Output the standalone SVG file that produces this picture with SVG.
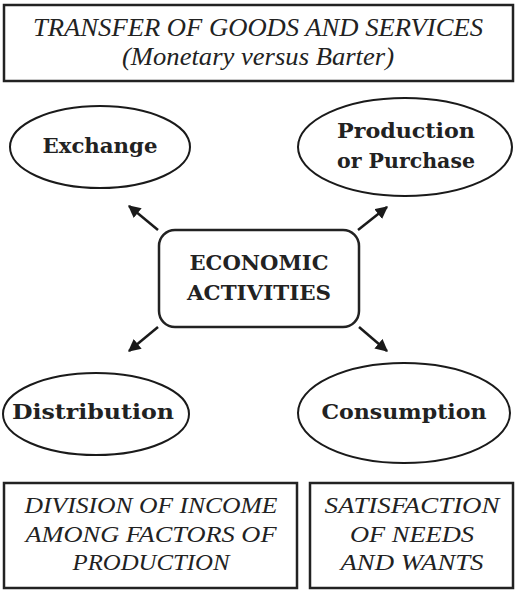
<svg xmlns="http://www.w3.org/2000/svg" width="524" height="605" viewBox="0 0 524 605">
<style>
.box{fill:#fff;stroke:#222;stroke-width:2.5}
.ell{fill:#fff;stroke:#1a1a1a;stroke-width:2}
.it{font-family:"Liberation Serif","Times New Roman",serif;font-style:italic;fill:#222;text-anchor:middle}
.bd{font-family:"DejaVu Serif","Liberation Serif",serif;font-weight:bold;fill:#222;text-anchor:middle}
.arr{stroke:#1a1a1a;stroke-width:2.5;fill:none;marker-end:url(#ah)}
</style>
<defs>
<marker id="ah" viewBox="0 0 10 10" refX="9" refY="5" markerWidth="5" markerHeight="5" orient="auto" markerUnits="strokeWidth">
<path d="M0,0 L10,5 L0,10 Z" fill="#1a1a1a"/>
</marker>
</defs>
<rect width="524" height="605" fill="#fff"/>
<g id="top">
<rect class="box" x="4" y="5" width="509" height="76"/>
<text class="it" x="258" y="36" font-size="25" textLength="450" lengthAdjust="spacingAndGlyphs">TRANSFER OF GOODS AND SERVICES</text>
<text class="it" x="258" y="65" font-size="25" textLength="272" lengthAdjust="spacingAndGlyphs">(Monetary versus Barter)</text>
</g>
<g id="exchange">
<ellipse class="ell" cx="100" cy="147" rx="90" ry="41"/>
<text class="bd" x="100" y="153" font-size="20.5" textLength="115" lengthAdjust="spacingAndGlyphs">Exchange</text>
</g>
<g id="production">
<ellipse class="ell" cx="405" cy="147" rx="107" ry="49"/>
<text class="bd" x="406" y="138" font-size="20.5" textLength="138" lengthAdjust="spacingAndGlyphs">Production</text>
<text class="bd" x="406" y="168" font-size="20.5" textLength="138" lengthAdjust="spacingAndGlyphs">or Purchase</text>
</g>
<g id="center">
<rect class="box" x="159" y="230" width="200" height="97" rx="16" ry="16"/>
<text class="bd" x="259" y="270" font-size="20.5" textLength="139" lengthAdjust="spacingAndGlyphs">ECONOMIC</text>
<text class="bd" x="259" y="300" font-size="20.5" textLength="144" lengthAdjust="spacingAndGlyphs">ACTIVITIES</text>
</g>
<g id="distribution">
<ellipse class="ell" cx="96" cy="414" rx="93" ry="41"/>
<text class="bd" x="93" y="419" font-size="20.5" textLength="162" lengthAdjust="spacingAndGlyphs">Distribution</text>
</g>
<g id="consumption">
<ellipse class="ell" cx="404" cy="413" rx="106" ry="50"/>
<text class="bd" x="404" y="419" font-size="20.5" textLength="165" lengthAdjust="spacingAndGlyphs">Consumption</text>
</g>
<g id="division">
<rect class="box" x="4" y="483" width="293" height="105"/>
<text class="it" x="151" y="513" font-size="23" textLength="253" lengthAdjust="spacingAndGlyphs">DIVISION OF INCOME</text>
<text class="it" x="151" y="542" font-size="23" textLength="251" lengthAdjust="spacingAndGlyphs">AMONG FACTORS OF</text>
<text class="it" x="151" y="570" font-size="23" textLength="157" lengthAdjust="spacingAndGlyphs">PRODUCTION</text>
</g>
<g id="satisfaction">
<rect class="box" x="310" y="483" width="203" height="105"/>
<text class="it" x="412" y="513" font-size="23" textLength="175" lengthAdjust="spacingAndGlyphs">SATISFACTION</text>
<text class="it" x="412" y="542" font-size="23" textLength="124" lengthAdjust="spacingAndGlyphs">OF NEEDS</text>
<text class="it" x="412" y="570" font-size="23" textLength="143" lengthAdjust="spacingAndGlyphs">AND WANTS</text>
</g>
<g id="connectors">
<line class="arr" x1="158" y1="230" x2="129" y2="206"/>
<line class="arr" x1="358" y1="230" x2="387" y2="207"/>
<line class="arr" x1="158" y1="327" x2="129" y2="351"/>
<line class="arr" x1="359" y1="327" x2="387" y2="351"/>
</g>
</svg>
